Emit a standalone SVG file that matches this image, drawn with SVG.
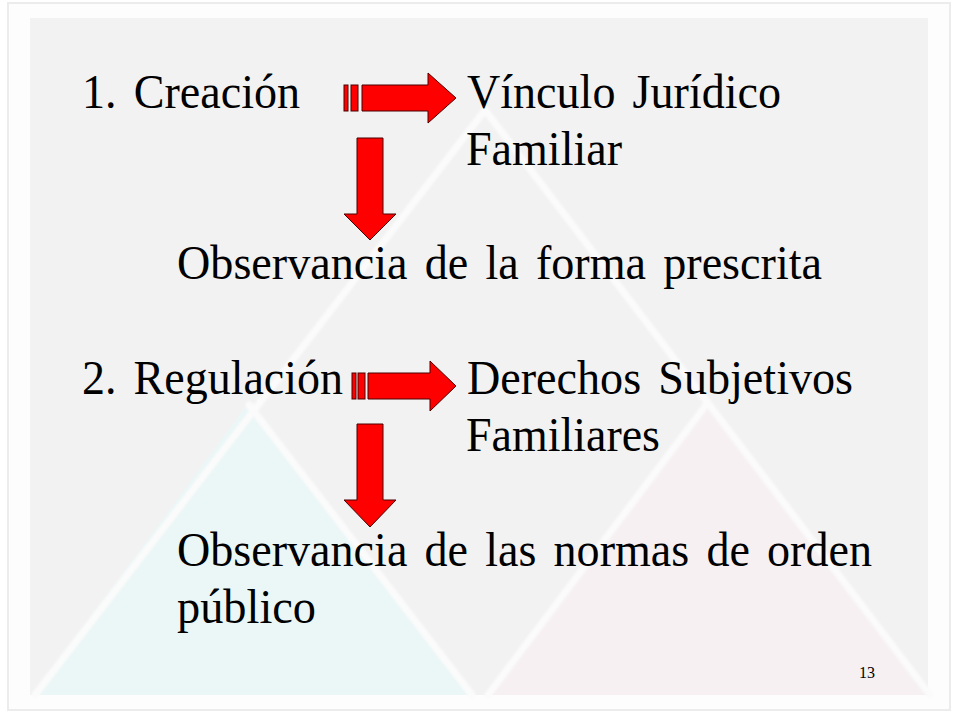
<svg xmlns="http://www.w3.org/2000/svg" width="960" height="720" viewBox="0 0 960 720">
  <defs>
    <style>
      .t { font-family: "Liberation Serif", "Times New Roman", serif; font-size: 49px; fill: #000; word-spacing: 6px; }
      .pg { font-family: "Liberation Serif", "Times New Roman", serif; font-size: 16px; fill: #000; }
      .arrow { fill: #ff0000; stroke: #4a0000; stroke-width: 1; stroke-linejoin: miter; }
      .band { stroke: #fbfbfb; stroke-width: 7; fill: none; stroke-linecap: round; filter: url(#soft); }
    </style>
    <filter id="soft" x="-5%" y="-5%" width="110%" height="110%">
      <feGaussianBlur stdDeviation="1.2"/>
    </filter>
  </defs>

  <!-- background -->
  <g id="background">
    <rect x="0" y="0" width="960" height="720" fill="#ffffff"/>
    <rect x="8" y="3" width="942" height="707" fill="#fdfdfd" stroke="#ececec" stroke-width="2"/>
    <rect x="30" y="18" width="898" height="677" fill="#f2f2f2"/>
    <polygon points="247,405 33,695 471,695" fill="#ebf6f6"/>
    <polygon points="707,405 490,695 928,695" fill="#f6f0f2"/>
    <line class="band" x1="92" y1="194" x2="860" y2="194"/>
    <polyline class="band" points="35,695 485,110 930,695"/>
    <line class="band" x1="249" y1="405" x2="472" y2="695"/>
    <line class="band" x1="706" y1="405" x2="488" y2="695"/>
  </g>

  <!-- nodes -->
  <g id="n-creacion"><text class="t" x="82" y="108" textLength="218" lengthAdjust="spacingAndGlyphs">1. Creación</text></g>
  <g id="n-vinculo">
    <text class="t" x="467" y="108" textLength="314" lengthAdjust="spacingAndGlyphs">Vínculo Jurídico</text>
    <text class="t" x="466" y="165" textLength="156" lengthAdjust="spacingAndGlyphs">Familiar</text>
  </g>
  <g id="n-forma"><text class="t" x="177" y="279" textLength="645" lengthAdjust="spacingAndGlyphs">Observancia de la forma prescrita</text></g>
  <g id="n-regulacion"><text class="t" x="82" y="394" textLength="261" lengthAdjust="spacingAndGlyphs">2. Regulación</text></g>
  <g id="n-derechos">
    <text class="t" x="467" y="394" textLength="386" lengthAdjust="spacingAndGlyphs">Derechos Subjetivos</text>
    <text class="t" x="466" y="451" textLength="194" lengthAdjust="spacingAndGlyphs">Familiares</text>
  </g>
  <g id="n-normas">
    <text class="t" x="177" y="566" textLength="695" lengthAdjust="spacingAndGlyphs">Observancia de las normas de orden</text>
    <text class="t" x="177" y="623" textLength="139" lengthAdjust="spacingAndGlyphs">público</text>
  </g>
  <g id="page"><text class="pg" x="859" y="678">13</text></g>

  <!-- connectors -->
  <g id="connectors">
    <g id="arrow-right-1">
      <rect class="arrow" x="344" y="85" width="4" height="26"/>
      <rect class="arrow" x="351" y="85" width="7" height="26"/>
      <polygon class="arrow" points="362,85 428,85 428,73 456,98 428,123 428,111 362,111"/>
    </g>
    <g id="arrow-down-1">
      <polygon class="arrow" points="357,138 383,138 383,214 396,214 370,240 344,214 357,214"/>
    </g>
    <g id="arrow-right-2">
      <rect class="arrow" x="352" y="373" width="4" height="26"/>
      <rect class="arrow" x="358" y="373" width="7" height="26"/>
      <polygon class="arrow" points="368,373 430,373 430,361 456,386 430,411 430,399 368,399"/>
    </g>
    <g id="arrow-down-2">
      <polygon class="arrow" points="357,424 383,424 383,500 396,500 370,527 344,500 357,500"/>
    </g>
  </g>
</svg>
